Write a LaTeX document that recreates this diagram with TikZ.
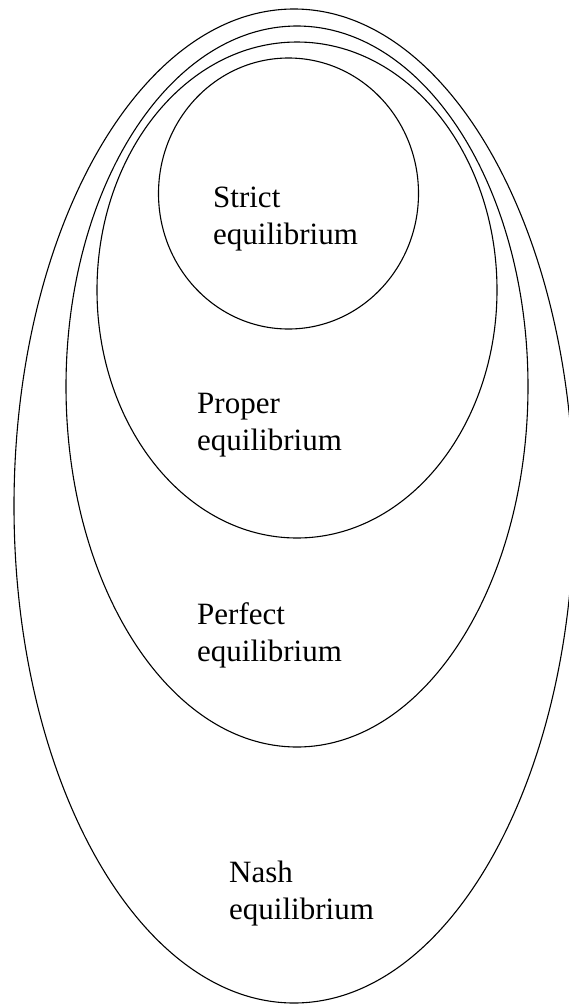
\documentclass[tikz,border=0pt]{standalone}
\usepackage{fontspec}
\setmainfont{Liberation Serif}
\begin{document}
\begin{tikzpicture}[x=1pt,y=-1pt,
  ring/.style={draw=black, line width=1.1pt},
  lbl/.style={anchor=base west, inner sep=0pt, align=left, font=\fontsize{31}{37}\selectfont}]
\clip (0,0) rectangle (569,1005);
\draw[ring] (294,506) ellipse [x radius=280pt, y radius=497pt];
\draw[ring] (297,386.5) ellipse [x radius=231pt, y radius=360.5pt];
\draw[ring] (297,290) ellipse [x radius=200pt, y radius=248pt];
\draw[ring] (288.5,193.5) ellipse [x radius=130pt, y radius=135.5pt];
\node[lbl] (strict) at (213,244) {Strict\\equilibrium};
\node[lbl] (proper) at (197,450) {Proper\\equilibrium};
\node[lbl] (perfect) at (197,661) {Perfect\\equilibrium};
\node[lbl] (nash) at (229,919) {Nash\\equilibrium};
\end{tikzpicture}
\end{document}
